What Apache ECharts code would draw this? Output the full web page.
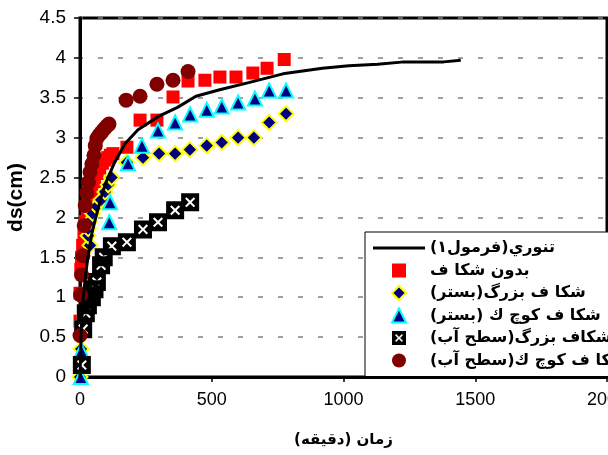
<!DOCTYPE html>
<html>
<head>
<meta charset="utf-8">
<script src="https://cdn.jsdelivr.net/npm/echarts@6/dist/echarts.min.js"></script>
<style>html,body{margin:0;padding:0;background:#fff;}#c{width:608px;height:455px;}</style>
</head>
<body>
<div id="c"></div>
<script>
// ---- data (time in minutes, ds in cm) ----
const xTicks = [0, 500, 1000, 1500, 2000];
const yTicks = [0, 0.5, 1, 1.5, 2, 2.5, 3, 3.5, 4, 4.5];

const seriesNames = [
  'تنوري(فرمول١)',
  'بدون شكا ف',
  'شكا ف بزرگ(بستر)',
  'شكا ف كوچ ك (بستر)',
  'شكاف بزرگ(سطح آب)',
  'شكا ف كوچ ك(سطح آب)'
];

const theoryT  = [0, 5, 10, 20, 30, 45, 60, 80, 100, 130, 170, 220, 300, 370, 440, 530, 640, 770, 920, 1020, 1130, 1230, 1380, 1445];
const theoryDs = [0, 0.6, 0.9, 1.25, 1.5, 1.8, 2.0, 2.25, 2.45, 2.68, 2.92, 3.1, 3.27, 3.38, 3.52, 3.6, 3.69, 3.8, 3.87, 3.9, 3.92, 3.95, 3.95, 3.97];

const squareT  = [0, 0, 3, 6, 10, 15, 20, 28, 36, 45, 55, 65, 75, 85, 95, 105, 115, 125, 178, 228, 292, 353, 410, 474, 531, 592, 656, 710, 775];
const squareDs = [0.7, 1.05, 1.35, 1.5, 1.65, 1.8, 1.95, 2.1, 2.22, 2.35, 2.45, 2.55, 2.62, 2.68, 2.72, 2.75, 2.78, 2.8, 2.88, 3.22, 3.22, 3.51, 3.71, 3.72, 3.76, 3.76, 3.81, 3.87, 3.98];

const diamondT  = [0, 4, 38, 31, 31, 38, 48, 63, 80, 95, 107, 120, 178, 239, 300, 361, 417, 481, 538, 600, 660, 718, 782];
const diamondDs = [0, 0.35, 1.65, 1.77, 1.86, 1.95, 2.05, 2.14, 2.22, 2.32, 2.41, 2.5, 2.69, 2.75, 2.8, 2.8, 2.85, 2.9, 2.94, 3.0, 3.0, 3.19, 3.3];

const triangleT  = [3, 5, 111, 114, 182, 235, 296, 361, 418, 481, 538, 600, 664, 718, 782];
const triangleDs = [0, 0.33, 1.94, 2.19, 2.68, 2.9, 3.09, 3.19, 3.29, 3.35, 3.39, 3.44, 3.49, 3.59, 3.59];

const crossT  = [7, 12, 22, 30, 45, 55, 64, 80, 90, 121, 178, 239, 296, 361, 418];
const crossDs = [0.15, 0.6, 0.8, 0.9, 1.0, 1.1, 1.19, 1.4, 1.5, 1.64, 1.69, 1.85, 1.94, 2.09, 2.19];

const circleT  = [0, 2, 6, 11, 16, 20, 26, 32, 38, 45, 53, 58, 64, 72, 80, 87, 95, 103, 110, 175, 228, 292, 353, 410];
const circleDs = [0.52, 1.03, 1.28, 1.52, 1.9, 2.15, 2.31, 2.44, 2.57, 2.67, 2.78, 2.9, 2.99, 3.03, 3.06, 3.09, 3.12, 3.15, 3.17, 3.47, 3.52, 3.67, 3.72, 3.83];

// ---- build ----
const zip = (a, b) => a.map((v, i) => [v, b[i]]);
const crossPath = 'path://M0 0H100V100H0Z M22 30L42 50L22 70L30 78L50 58L70 78L78 70L58 50L78 30L70 22L50 42L30 22Z';
const squarePath = 'path://M0 0H100V100H0Z';
const diamondPath = 'path://M50 0L100 50L50 100L0 50Z';
const trianglePath = 'path://M50 0L100 100H0Z';
const linePath = 'path://M0 0H100V6H0Z';

const chart = echarts.init(document.getElementById('c'), null, {renderer: 'canvas'});
const arFont = "'DejaVu Sans', sans-serif";
const numFont = "'Liberation Sans', Arial, sans-serif";

chart.setOption({
  animation: false,
  backgroundColor: '#ffffff',
  grid: {
    left: 80, right: 1, top: 18, bottom: 78,
    outerBoundsMode: 'none', containLabel: false,
    show: true, borderColor: '#000', borderWidth: 3, backgroundColor: 'transparent'
  },
  legend: {
    data: [
      {name: seriesNames[0], icon: linePath},
      {name: seriesNames[1], icon: squarePath},
      {name: seriesNames[2], icon: diamondPath},
      {name: seriesNames[3], icon: trianglePath},
      {name: seriesNames[4], icon: crossPath},
      {name: seriesNames[5], icon: 'circle'}
    ],
    orient: 'vertical',
    left: 365, top: 232,
    padding: [8, 8, 8, 8],
    itemWidth: 52, itemHeight: 14, itemGap: 6.5,
    symbolKeepAspect: true,
    backgroundColor: '#fff',
    borderColor: '#000', borderWidth: 1,
    textStyle: {fontFamily: arFont, fontWeight: 'bold', fontSize: 16, color: '#000', padding: [0, 0, 0, 0]},
    selectedMode: false
  },
  xAxis: {
    type: 'value', min: xTicks[0], max: xTicks[xTicks.length - 1], interval: 500,
    name: 'زمان (دقيقه)', nameLocation: 'middle', nameGap: 56,
    nameTextStyle: {fontFamily: arFont, fontWeight: 'bold', fontSize: 15, color: '#000'},
    axisLine: {onZero: false, lineStyle: {color: '#000', width: 3}},
    axisTick: {show: true, inside: false, length: 5, lineStyle: {color: '#000', width: 1.5}},
    axisLabel: {fontFamily: numFont, fontSize: 18, color: '#000', margin: 14, showMaxLabel: true,
      formatter: v => String(v)},
    splitLine: {show: false}
  },
  yAxis: {
    type: 'value', min: yTicks[0], max: yTicks[yTicks.length - 1], interval: 0.5,
    name: 'ds(cm)', nameLocation: 'middle', nameGap: 53, nameRotate: 90,
    nameTextStyle: {fontFamily: numFont, fontWeight: 'bold', fontSize: 21, color: '#000'},
    axisLine: {show: true, lineStyle: {color: '#000', width: 3}},
    axisTick: {show: true, inside: false, length: 6, lineStyle: {color: '#000', width: 1.5}},
    axisLabel: {fontFamily: numFont, fontSize: 19, color: '#000', margin: 14, formatter: v => String(v)},
    splitLine: {show: true, lineStyle: {color: '#808080', width: 1.5, type: [5, 15], dashOffset: 2}}
  },
  series: [
    {
      name: seriesNames[0], type: 'line', data: zip(theoryT, theoryDs),
      symbol: 'none', smooth: false,
      lineStyle: {color: '#000', width: 3}, itemStyle: {color: '#000'}
    },
    {
      name: seriesNames[1], type: 'scatter', data: zip(squareT, squareDs),
      symbol: squarePath, symbolSize: 13,
      itemStyle: {color: '#ff0000', opacity: 1}
    },
    {
      name: seriesNames[2], type: 'scatter', data: zip(diamondT, diamondDs),
      symbol: diamondPath, symbolSize: 15,
      itemStyle: {color: '#000080', borderColor: '#ffff00', borderWidth: 2, opacity: 1}
    },
    {
      name: seriesNames[3], type: 'scatter', data: zip(triangleT, triangleDs),
      symbol: trianglePath, symbolSize: 14,
      itemStyle: {color: '#000080', borderColor: '#00ffff', borderWidth: 2, opacity: 1}
    },
    {
      name: 'crossBack', type: 'scatter', data: zip(crossT, crossDs),
      symbol: squarePath, symbolSize: 18, silent: true,
      itemStyle: {color: '#ffffff', opacity: 1}
    },
    {
      name: seriesNames[4], type: 'scatter', data: zip(crossT, crossDs),
      symbol: crossPath, symbolSize: 18,
      itemStyle: {color: '#000000', opacity: 1}
    },
    {
      name: seriesNames[5], type: 'scatter', data: zip(circleT, circleDs),
      symbol: 'circle', symbolSize: 15,
      itemStyle: {color: '#800000', opacity: 1}
    }
  ]
});
</script>
</body>
</html>
